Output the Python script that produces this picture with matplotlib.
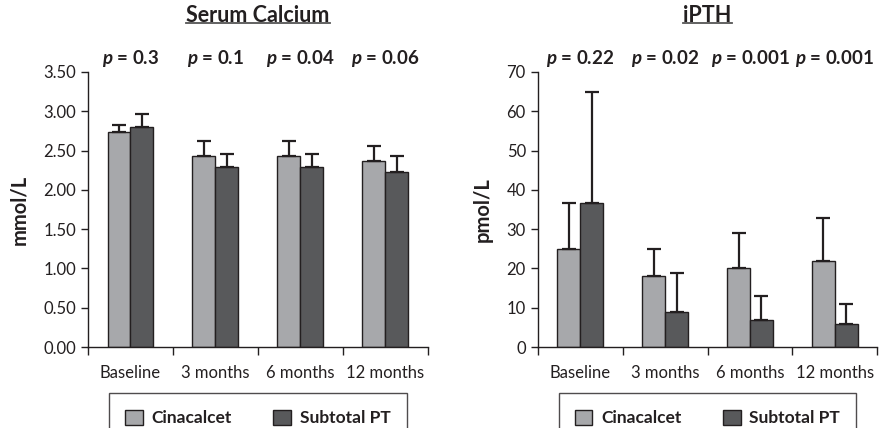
import matplotlib
matplotlib.use("Agg")
import matplotlib.pyplot as plt
from matplotlib.patches import Patch
from matplotlib.lines import Line2D
import numpy as np

plt.rcParams['font.family'] = ['Lato', 'DejaVu Sans']
plt.rcParams['mathtext.fontset'] = 'custom'
plt.rcParams['mathtext.bfit'] = 'Lato:italic:bold'

categories = ["Baseline", "3 months", "6 months", "12 months"]

# Serum calcium (mmol/L): means and upper SD
ca_cina = [2.73, 2.43, 2.43, 2.37]
ca_cina_err = [0.09, 0.19, 0.19, 0.19]
ca_sub = [2.80, 2.29, 2.29, 2.23]
ca_sub_err = [0.17, 0.17, 0.17, 0.20]
ca_p = ["0.3", "0.1", "0.04", "0.06"]

# iPTH (pmol/L)
pth_cina = [25, 18, 20, 22]
pth_cina_err = [11.6, 7, 9, 10.8]
pth_sub = [36.7, 9, 7, 6]
pth_sub_err = [28.3, 9.8, 6, 5]
pth_p = ["0.22", "0.02", "0.001", "0.001"]

light = "#a7a8ab"
dark = "#58595b"
edge = "#231f20"

fig = plt.figure(figsize=(8.8, 4.28), dpi=100)


def panel(rect, cina, cina_err, sub, sub_err, pvals, ymax, yticks, fmt, ylabel, title):
    ax = fig.add_axes(rect)
    x = np.arange(len(categories))
    w = 0.27
    ekw = dict(ecolor=edge, elinewidth=1.6, capsize=5, capthick=1.6)
    ax.bar(x - w / 2, cina, w, color=light, edgecolor=edge, linewidth=1,
           yerr=[np.zeros(len(cina)), cina_err], error_kw=ekw, zorder=2)
    ax.bar(x + w / 2, sub, w, color=dark, edgecolor=edge, linewidth=1,
           yerr=[np.zeros(len(sub)), sub_err], error_kw=ekw, zorder=2)
    ax.set_xlim(-0.5, len(categories) - 0.5)
    ax.set_ylim(0, ymax)
    ax.set_yticks(yticks)
    ax.set_yticklabels([fmt.format(v) for v in yticks])
    ax.set_xticks(x)
    ax.set_xticklabels(categories)
    ax.set_xticks(np.arange(-0.5, len(categories)), minor=True)
    ax.tick_params(axis='x', which='major', length=0, labelsize=12, pad=13,
                   colors='#231f20')
    ax.tick_params(axis='x', which='minor', length=6, width=1, color='#231f20')
    ax.tick_params(axis='y', length=5, width=1, labelsize=12, color='#231f20',
                   labelcolor='#231f20')
    for s in ['top', 'right']:
        ax.spines[s].set_visible(False)
    for s in ['left', 'bottom']:
        ax.spines[s].set_linewidth(1)
        ax.spines[s].set_color('#231f20')
    ax.set_ylabel(ylabel, fontsize=14.5, fontweight='bold', labelpad=10, color='#231f20')
    for i, p in enumerate(pvals):
        ax.text(i, ymax * 1.01, r"$\mathbfit{p}$ = " + p, ha='center', va='bottom',
                fontsize=13.5, fontweight='bold', color='#231f20')
    ax.set_title(title, fontsize=15.5, fontweight='bold', pad=36, color='#231f20')
    handles = [Patch(facecolor=light, edgecolor=edge, label="Cinacalcet"),
               Patch(facecolor=dark, edgecolor=edge, label="Subtotal PT")]
    leg = ax.legend(handles=handles, loc='upper center', bbox_to_anchor=(0.5, -0.167),
                    ncol=2, frameon=True, fancybox=False,
                    prop={'weight': 'bold', 'size': 12.5}, handlelength=1.0,
                    handleheight=1.0, columnspacing=2.4, borderpad=0.95,
                    handletextpad=0.5, borderaxespad=0)
    leg.get_frame().set_edgecolor('#231f20')
    leg.get_frame().set_linewidth(1)
    for t in leg.get_texts():
        t.set_color('#231f20')
    return ax


ax1 = panel([0.1, 0.189, 0.386, 0.643], ca_cina, ca_cina_err, ca_sub, ca_sub_err,
            ca_p, 3.5, np.arange(0, 3.51, 0.5), "{:.2f}", "mmol/L", "Serum Calcium")
ax2 = panel([0.611, 0.189, 0.386, 0.643], pth_cina, pth_cina_err, pth_sub, pth_sub_err,
            pth_p, 70, np.arange(0, 71, 10), "{:.0f}", "pmol/L", "iPTH")

# underline the titles
fig.canvas.draw()
r = fig.canvas.get_renderer()
for ax in (ax1, ax2):
    bb = ax.title.get_window_extent(r).transformed(fig.transFigure.inverted())
    yl = bb.y0 + 0.006
    fig.add_artist(Line2D([bb.x0, bb.x1], [yl, yl], color='#555555', lw=1.3))

fig.savefig("out.png", dpi=100)
